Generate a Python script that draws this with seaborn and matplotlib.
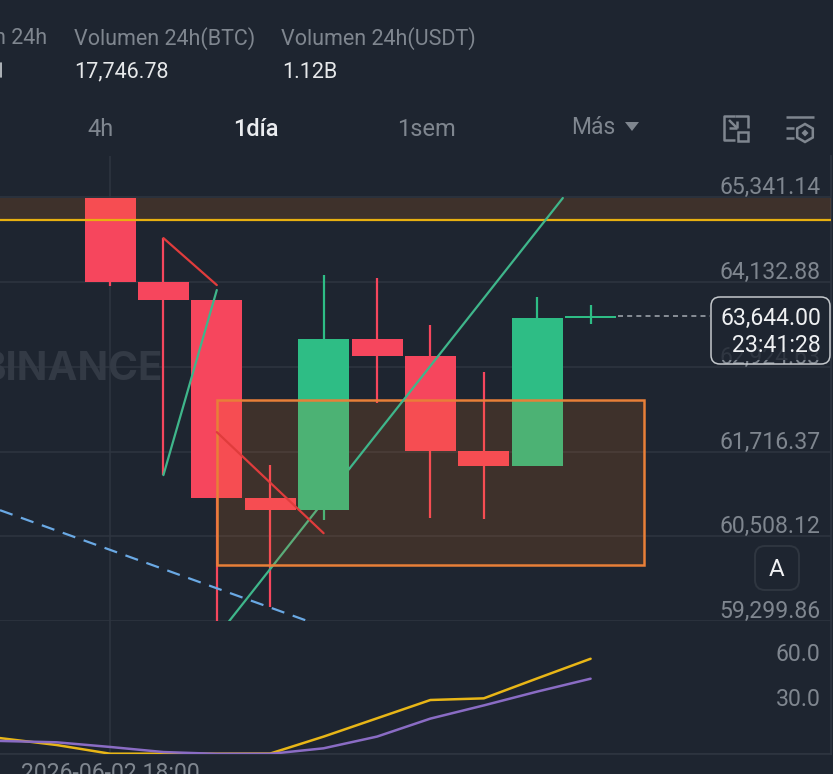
import numpy as np
import matplotlib
matplotlib.use("Agg")
import matplotlib.pyplot as plt
from matplotlib.patches import FancyBboxPatch, Rectangle, Polygon
import seaborn as sns

# candles
candle_idx = [0, 1, 2, 3, 4, 5, 6, 7, 8, 9]
opens = [65330, 64133, 63876, 61052, 60880, 63320, 63077, 61722, 61508, 63620]
closes = [64133, 63876, 61052, 60880, 63320, 63077, 61722, 61508, 63619, 63644]
highs = [65330, 64760, 63876, 61522, 64233, 64190, 63520, 62849, 63919, 63805]
lows = [64076, 61380, 59200, 59497, 60738, 62407, 60766, 60752, 61508, 63534]

price_ticks = [65341.14, 64132.88, 62924.63, 61716.37, 60508.12, 59299.86]
price_labels = ["65,341.14", "64,132.88", "62,924.63", "61,716.37", "60,508.12", "59,299.86"]

# lower panel
ind_idx = [-2.06, -1, 0, 1, 2, 3, 4, 5, 6, 7, 8, 9]
ind_yellow = [10.6, 6.0, 0.2, 0.2, 0.2, 0.3, 11.6, 23.8, 36.0, 37.1, 50.4, 63.5]
ind_purple = [8.7, 7.8, 4.7, 1.3, 0.1, 0.1, 3.8, 11.6, 23.6, 32.4, 41.6, 50.2]
ind_ticks = [30, 60]

BG = "#1e2530"
GRID = "#2e3540"
UP = "#2ebd85"
DOWN = "#f6465d"
MUTED = "#7f868f"
ORANGE = "#fa7814"

sns.set_theme(style="dark", rc={"axes.facecolor": BG, "figure.facecolor": BG})
plt.rcParams["font.family"] = ["Roboto", "DejaVu Sans"]

W, H = 833, 774
fig = plt.figure(figsize=(W / 100, H / 100), dpi=100)

RIGHT = 831 / W
ax = fig.add_axes([0, (H - 621) / H, RIGHT, (621 - 156) / H])
ax2 = fig.add_axes([0, (H - 754) / H, RIGHT, (754 - 621) / H])
xlim = (-2.06, (831 - 110) / 53.4)

opens_a, closes_a = np.array(opens), np.array(closes)
idx_a = np.array(candle_idx)
is_up = closes_a >= opens_a

ax.vlines(idx_a[is_up], np.array(lows)[is_up], np.array(highs)[is_up], color=UP, lw=1.6, zorder=2)
ax.vlines(idx_a[~is_up], np.array(lows)[~is_up], np.array(highs)[~is_up], color=DOWN, lw=1.6, zorder=2)

sns.barplot(x=idx_a[is_up], y=(closes_a - opens_a)[is_up], bottom=opens_a[is_up], native_scale=True,
            color=UP, saturation=1, width=0.955, errorbar=None, linewidth=0, ax=ax, zorder=3)
sns.barplot(x=idx_a[~is_up], y=(closes_a - opens_a)[~is_up], bottom=opens_a[~is_up], native_scale=True,
            color=DOWN, saturation=1, width=0.955, errorbar=None, linewidth=0, ax=ax, zorder=3)

# drawings on the chart
ax.axhspan(65017, 65331, color=ORANGE, alpha=0.15, lw=0, zorder=4)
ax.axhline(65017, color="#e8b010", lw=1.6, zorder=6)
ax.add_patch(Rectangle((2.0, 60096), 8.0, 62450 - 60096, facecolor=ORANGE, alpha=0.15, lw=0, zorder=4))
ax.add_patch(Rectangle((2.0, 60096), 8.0, 62450 - 60096, fill=False, edgecolor="#e87f38", lw=1.8, zorder=5))

ax.plot([1, 2], [64760, 64090], color="#e03c3c", lw=1.6, zorder=6)
ax.plot([1, 2], [61380, 64019], color="#3fb68b", lw=1.6, zorder=6)
ax.plot([2, 4], [61993, 60552], color="#e03c3c", lw=1.6, zorder=6)
# long trend line goes behind the big green candle only
ax.plot([2.23, 4.49], [59297, 61479], color="#3fb68b", lw=1.6, zorder=2.5)
ax.plot([4.49, 8.48], [61479, 65331], color="#3fb68b", lw=1.6, zorder=6)
ax.plot([-2.06, 3.71], [60880, 59297], color="#6aa9e4", lw=1.6, ls=(0, (6, 4)), zorder=2.6)
ax.hlines(63644, 9.51, 11.24, color="#9aa0a8", lw=1.2, ls=(0, (3, 2.5)), zorder=6)

ax.text(163 / 53.4 - 110 / 53.4, 62880, "BINANCE", color="#333a45", fontsize=29, fontweight="bold",
        ha="right", va="center", zorder=1, fontfamily=["Inter", "DejaVu Sans"])

ax.set_xlim(*xlim)
ax.set_ylim(59299.86, 64132.88 + 126 * 14.265)
ax.set_yticks(price_ticks)
ax.set_xticks([0])
ax.grid(True, color=GRID, lw=1.1, zorder=0)
ax.set_axisbelow(True)
ax.tick_params(left=False, bottom=False, labelleft=False, labelbottom=False)
ax.set_xlabel("")
ax.set_ylabel("")
for name, spine in ax.spines.items():
    spine.set_visible(name == "right")
    spine.set_color(GRID)

for p, lab in zip(price_ticks, price_labels):
    ax.annotate(lab, (1, p), xycoords=("axes fraction", "data"), xytext=(-7.5, -1.5),
                textcoords="offset points", ha="right", va="bottom", color=MUTED, fontsize=16.6,
                zorder=1.5, annotation_clip=False)

# lower panel
sns.lineplot(x=ind_idx, y=ind_yellow, color="#e8b617", lw=1.8, ax=ax2, zorder=3)
sns.lineplot(x=ind_idx, y=ind_purple, color="#8a6cc4", lw=1.8, ax=ax2, zorder=4)
ax2.set_xlim(*xlim)
ax2.set_ylim(0, 133 / 1.5)
ax2.set_xticks([0])
ax2.set_yticks([0])
ax2.grid(True, color=GRID, lw=1.1)
ax2.tick_params(left=False, bottom=False, labelleft=False, labelbottom=False)
for name, spine in ax2.spines.items():
    spine.set_visible(name in ("right", "bottom"))
    spine.set_color(GRID)
for v in ind_ticks:
    ax2.annotate(f"{v:.1f}", (1, v), xycoords=("axes fraction", "data"), xytext=(-7.5, -1.5),
                 textcoords="offset points", ha="right", va="bottom", color=MUTED, fontsize=16.6)

# header, tabs and buttons go on a pixel overlay
ov = fig.add_axes([0, 0, 1, 1], zorder=10)
ov.set_xlim(0, W)
ov.set_ylim(H, 0)
ov.axis("off")
ov.patch.set_alpha(0)

ov.text(47, 39, "n 24h", color=MUTED, fontsize=15.5, ha="right", va="center")
ov.text(74, 39, "Volumen 24h(BTC)", color=MUTED, fontsize=15.5, va="center")
ov.text(281, 39, "Volumen 24h(USDT)", color=MUTED, fontsize=15.5, va="center")
ov.text(74, 72, "17,746.78", color="#e6e8ea", fontsize=15.5, va="center")
ov.text(282, 72, "1.12B", color="#e6e8ea", fontsize=15.5, va="center")
ov.plot([0.5, 0.5], [63, 77], color="#c8ccd0", lw=1.2)

ov.text(101, 130, "4h", color=MUTED, fontsize=17, ha="center", va="center")
ov.text(256, 130, "1día", color="#eaecef", fontsize=17, fontweight="medium", ha="center", va="center")
ov.text(426, 130, "1sem", color=MUTED, fontsize=17, ha="center", va="center")
ov.text(593, 128, "Más", color=MUTED, fontsize=16.5, ha="center", va="center")
ov.add_patch(Polygon([[625, 122], [639, 122], [632, 131]], color=MUTED, lw=0))

icon = dict(color=MUTED, lw=1.8, solid_capstyle="butt")
ov.plot([735, 724, 724, 735], [116, 116, 140, 140], **icon)
ov.plot([735, 748, 748], [116, 116, 128], **icon)
ov.add_patch(Rectangle((738.5, 132), 10, 9, fill=False, edgecolor=MUTED, lw=1.8))
ov.plot([729, 737], [120, 128], **icon)
ov.plot([737, 737], [121, 128], **icon)
ov.plot([729, 737], [128, 128], **icon)

ov.plot([786, 814], [117, 117], **icon)
ov.plot([786, 794], [128, 128], **icon)
ov.plot([786, 794], [138, 138], **icon)
hx, hy, r = 805, 133, 9
ov.add_patch(Polygon([[hx + r * np.sin(a), hy + r * np.cos(a)] for a in np.arange(6) * np.pi / 3],
                     closed=True, fill=False, edgecolor=MUTED, lw=1.8))
ov.add_patch(Polygon([[hx, hy - 3.5], [hx + 3.5, hy], [hx, hy + 3.5], [hx - 3.5, hy]], color=MUTED, lw=0))

# last price box
ov.add_patch(FancyBboxPatch((715, 301), 111, 59, boxstyle="round,pad=0,rounding_size=6", mutation_aspect=1,
                            facecolor=BG, alpha=0.82, lw=0))
ov.add_patch(FancyBboxPatch((711, 297), 119, 67, boxstyle="round,pad=0,rounding_size=9",
                            facecolor="none", edgecolor="#c4c8cc", lw=1.1))
ov.text(821, 318, "63,644.00", color="#eef0f2", fontsize=16.6, ha="right", va="center")
ov.text(821, 346, "23:41:28", color="#eef0f2", fontsize=16.6, ha="right", va="center")

# auto button
ov.add_patch(FancyBboxPatch((755, 546), 44, 44, boxstyle="round,pad=0,rounding_size=10",
                            facecolor=BG, edgecolor="#2f3640", lw=1.4))
ov.text(777, 570, "A", color="#f0f1f3", fontsize=17.5, ha="center", va="center")

ov.text(110, 774, "2026-06-02 18:00", color=MUTED, fontsize=16.6, ha="center", va="center")

fig.savefig("out.png", dpi=100, facecolor=BG)
plt.close("all")
